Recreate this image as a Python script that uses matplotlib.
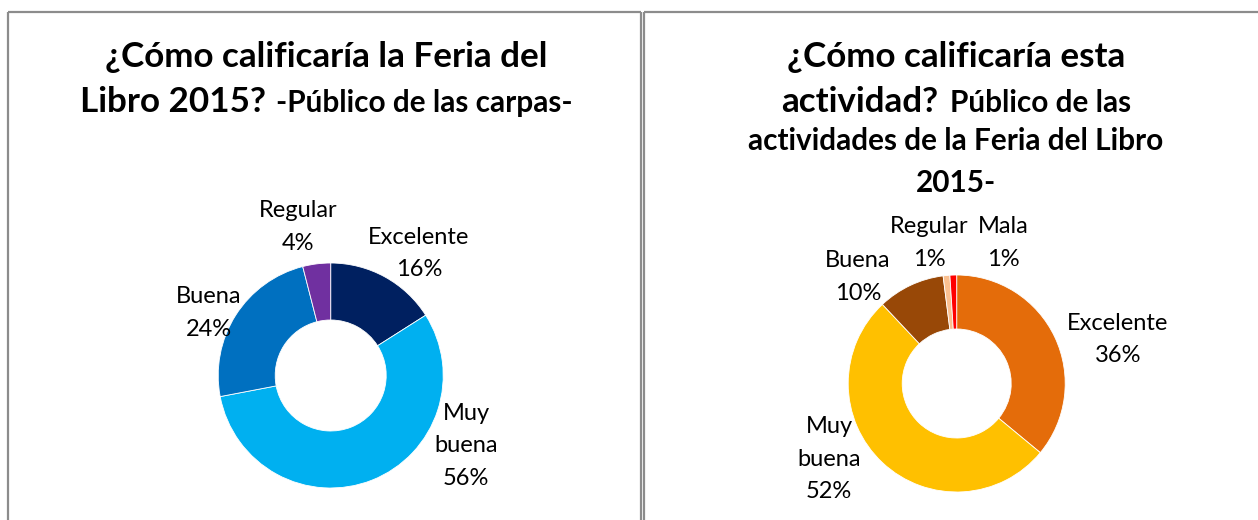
import matplotlib
matplotlib.use("Agg")
import matplotlib.pyplot as plt

W, H = 1258, 520

# ---- data ----
cats_left = ["Excelente", "Muy buena", "Buena", "Regular"]
vals_left = [16, 56, 24, 4]
colors_left = ["#002060", "#00B0F0", "#0070C0", "#7030A0"]

cats_right = ["Excelente", "Muy buena", "Buena", "Regular", "Mala"]
vals_right = [36, 52, 10, 1, 1]
colors_right = ["#E46C0A", "#FFC000", "#984807", "#FAC090", "#FF0000"]

# label line splits (text) for each category
lines_left = [["Excelente"], ["Muy", "buena"], ["Buena"], ["Regular"]]
lines_right = [["Excelente"], ["Muy", "buena"], ["Buena"], ["Regular"], ["Mala"]]

# ---- layout (image pixel coords, y downward) ----
pos_left = [(419, 244), (466, 420), (209, 303), (298, 217)]
pos_right = [(1118, 330), (829, 433), (858, 267), (929, 233), (1003, 233)]
LINE = 32.5

FONT = "Lato"

fig = plt.figure(figsize=(W / 100, H / 100), dpi=100)
ax = fig.add_axes([0, 0, 1, 1])
renderer = fig.canvas.get_renderer()


def Y(y):
    return H - y


def width_px(s, size, weight="normal"):
    t = ax.text(0, 0, s, fontsize=size, fontweight=weight, family=FONT)
    w = t.get_window_extent(renderer).width
    t.remove()
    return w


def fit(s, target, weight="normal"):
    return 20 * target / width_px(s, 20, weight)


# donuts
def donut(vals, colors, cx, cy, r, rin):
    ax.pie(vals, colors=colors, startangle=90, counterclock=False,
           center=(cx, Y(cy)), radius=r,
           wedgeprops=dict(width=r - rin, edgecolor="white", linewidth=0.6))


donut(vals_left, colors_left, 330.7, 375.5, 112.5, 55.5)
donut(vals_right, colors_right, 956.7, 383.5, 108.5, 54.5)

# labels
lab_size = fit("Excelente", 102)


def labels(cats_lines, vals, positions):
    for lines, v, (x, y) in zip(cats_lines, vals, positions):
        allines = lines + [f"{v}%"]
        for i, s in enumerate(allines):
            ax.text(x, Y(y + i * LINE), s, fontsize=lab_size, family=FONT,
                    ha="center", va="baseline", color="black")


labels(lines_left, vals_left, pos_left)
labels(lines_right, vals_right, pos_right)

# titles
big = fit("¿Cómo calificaría la Feria del", 442, "bold")
small = fit("actividades de la Feria del Libro", 415, "bold")


def line_center(cx, y, parts, gap=10):
    ws = [width_px(s, sz, "bold") for s, sz in parts]
    total = sum(ws) + gap * (len(parts) - 1)
    x = cx - total / 2
    for (s, sz), w in zip(parts, ws):
        ax.text(x, Y(y), s, fontsize=sz, fontweight="bold", family=FONT,
                ha="left", va="baseline", color="black")
        x += w + gap


line_center(326, 67, [("¿Cómo calificaría la Feria del", big)])
line_center(326, 112, [("Libro 2015?", big), ("-Público de las carpas-", small)])
line_center(956, 67, [("¿Cómo calificaría esta", big)])
line_center(956, 112, [("actividad?", big), ("Público de las", small)], gap=12)
line_center(956, 150, [("actividades de la Feria del Libro", small)])
line_center(956, 192, [("2015-", small)])

# panel borders
bc = "#8C8C8C"
lw = 1.6
ax.plot([8, 8], [Y(12), Y(H)], color=bc, lw=lw, solid_capstyle="butt")
ax.plot([8, 641], [Y(12), Y(12)], color=bc, lw=lw, solid_capstyle="butt")
ax.plot([641, 641], [Y(12), Y(H)], color=bc, lw=lw, solid_capstyle="butt")
ax.plot([643.5, 643.5], [Y(12), Y(H)], color=bc, lw=lw, solid_capstyle="butt")
ax.plot([643.5, W], [Y(12), Y(12)], color=bc, lw=lw, solid_capstyle="butt")

ax.set_xlim(0, W)
ax.set_ylim(0, H)
ax.set_aspect("equal")
ax.axis("off")

fig.savefig("out.png", dpi=100)
